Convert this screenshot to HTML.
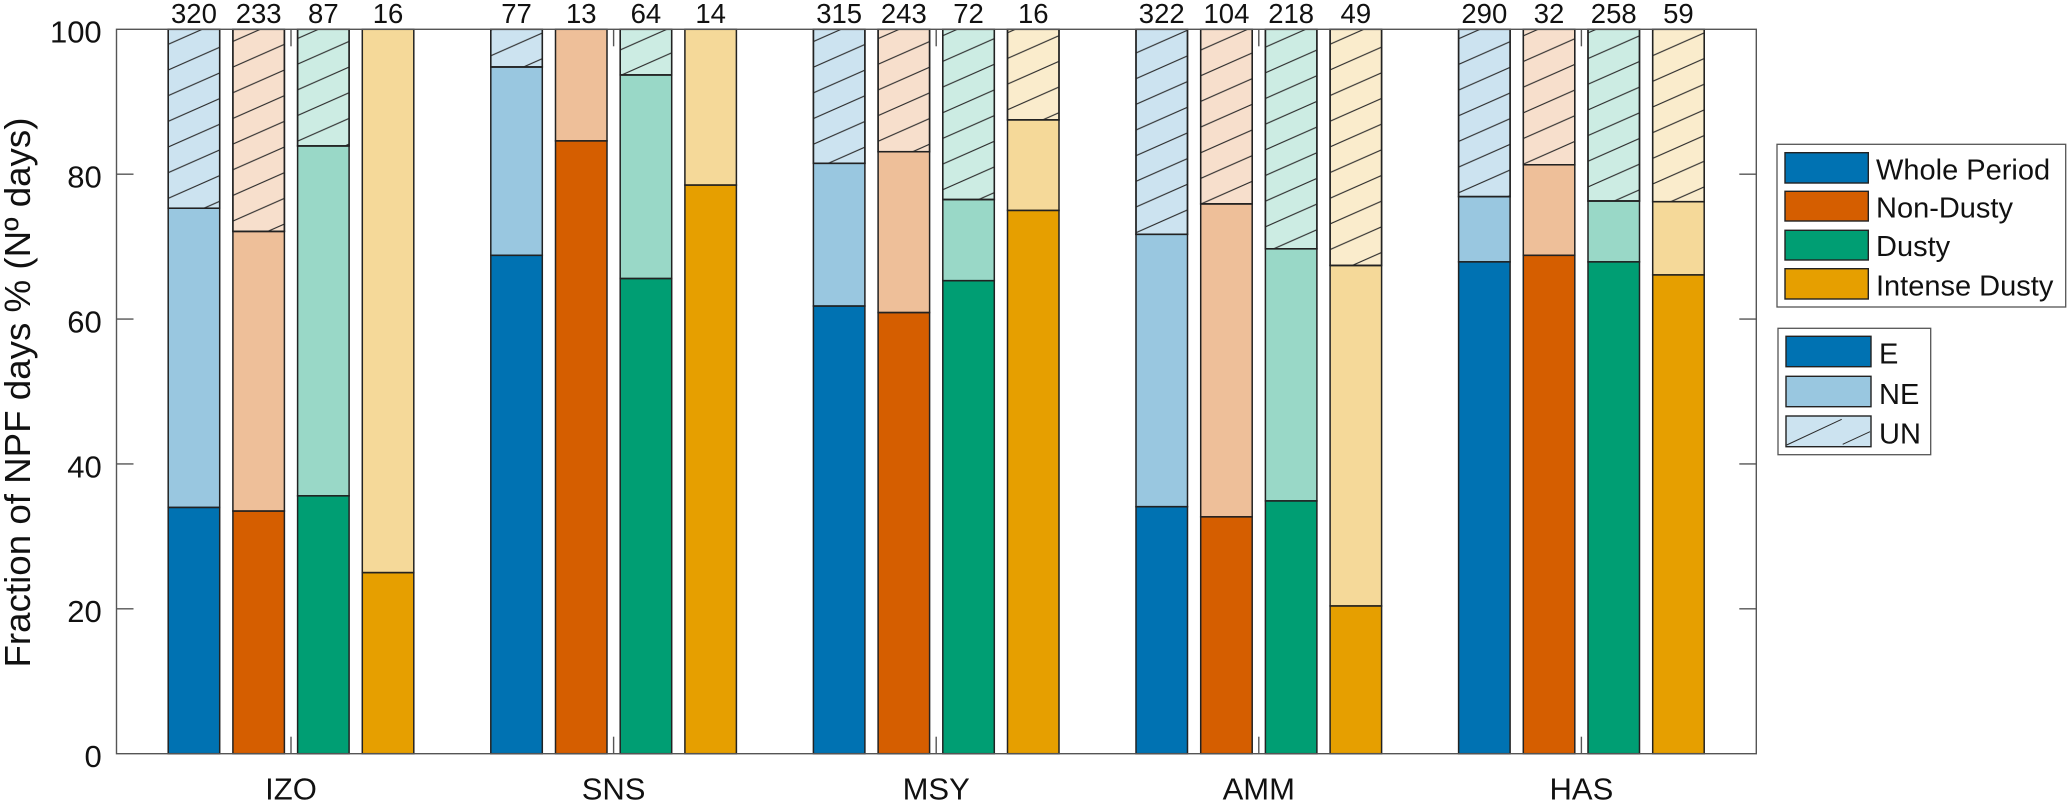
<!DOCTYPE html>
<html lang="en">
<head>
<meta charset="utf-8">
<title>Fraction of NPF days</title>
<style>
html,body{margin:0;padding:0;background:#fff;}
svg{display:block;font-family:"Liberation Sans",sans-serif;}
text{fill:#111;}
</style>
</head>
<body>
<svg id="chart" xmlns="http://www.w3.org/2000/svg" width="2067" height="802" viewBox="0 0 2067 802">
  <defs>
    <pattern id="hatch" patternUnits="userSpaceOnUse" width="58.08" height="25.67" patternTransform="translate(168.3 18.63)">
      <line x1="-5.808" y1="28.237" x2="63.888" y2="-2.567" stroke="#2b2b2b" stroke-width="1.1"/>
      <line x1="-5.808" y1="2.567" x2="5.808" y2="-2.567" stroke="#2b2b2b" stroke-width="1.1"/>
      <line x1="52.272" y1="28.237" x2="63.888" y2="23.103" stroke="#2b2b2b" stroke-width="1.1"/>
    </pattern>
  </defs>
  <g id="bars"></g>
  <g id="axes"></g>
  <g id="count-labels" font-size="27.5" text-anchor="middle"></g>

  <text transform="translate(30 392.5) rotate(-90)" text-anchor="middle" font-size="36" textLength="550" lengthAdjust="spacingAndGlyphs">Fraction of NPF days % (Nº days)</text>

  <g>
    <rect x="1777" y="144.3" width="288.7" height="162.7" fill="#fff" stroke="#555" stroke-width="1.3"/>
    <rect x="1785" y="152.7" width="83.3" height="30.3" fill="#0072B2" stroke="#222" stroke-width="1.4"/>
    <rect x="1785" y="191.3" width="83.3" height="29.7" fill="#D55E00" stroke="#222" stroke-width="1.4"/>
    <rect x="1785" y="230.3" width="83.3" height="29.7" fill="#009E73" stroke="#222" stroke-width="1.4"/>
    <rect x="1785" y="268.7" width="83.3" height="30.3" fill="#E69F00" stroke="#222" stroke-width="1.4"/>
    <text x="1876" y="179.3" font-size="29">Whole Period</text>
    <text x="1876" y="217.3" font-size="29">Non-Dusty</text>
    <text x="1876" y="256" font-size="29">Dusty</text>
    <text x="1876" y="295.7" font-size="29">Intense Dusty</text>
  </g>

  <g>
    <rect x="1778" y="328.3" width="152.7" height="126.4" fill="#fff" stroke="#555" stroke-width="1.3"/>
    <rect x="1786" y="336.3" width="85" height="30.4" fill="#0072B2" stroke="#222" stroke-width="1.4"/>
    <rect x="1786" y="376.3" width="85" height="30.4" fill="#0072B2" fill-opacity="0.4" stroke="#222" stroke-width="1.4"/>
    <rect x="1786" y="416" width="85" height="30.7" fill="#CCE3F0" stroke="#222" stroke-width="1.4"/>
    <line x1="1786.7" y1="445" x2="1841.7" y2="419.3" stroke="#2b2b2b" stroke-width="1"/>
    <line x1="1842.7" y1="444.3" x2="1870" y2="431.7" stroke="#2b2b2b" stroke-width="1"/>
    <text x="1879" y="363.3" font-size="29">E</text>
    <text x="1879" y="404" font-size="29">NE</text>
    <text x="1879" y="443.3" font-size="29">UN</text>
  </g>
</svg>

<script>
// Chart data, four bars per site: Whole Period, Non-Dusty, Dusty, Intense Dusty
const sites = ["IZO", "SNS", "MSY", "AMM", "HAS"];
const periods = ["Whole Period", "Non-Dusty", "Dusty", "Intense Dusty"];
const periodColors = ["#0072B2", "#D55E00", "#009E73", "#E69F00"];
const yTicks = [0, 20, 40, 60, 80, 100];
const eFraction = [
  [34.0, 33.5, 35.6, 25.0],
  [68.8, 84.6, 65.6, 78.5],
  [61.8, 60.9, 65.3, 75.0],
  [34.1, 32.7, 34.9, 20.4],
  [67.9, 68.8, 67.9, 66.1]
];
const neFraction = [
  [41.3, 38.6, 48.3, 75.0],
  [26.0, 15.4, 28.1, 21.5],
  [19.7, 22.2, 11.2, 12.5],
  [37.6, 43.2, 34.8, 47.0],
  [9.0, 12.5, 8.4, 10.1]
];
const unFraction = [
  [24.7, 27.9, 16.1, 0],
  [5.2, 0, 6.3, 0],
  [18.5, 16.9, 23.5, 12.5],
  [28.3, 24.1, 30.3, 32.6],
  [23.1, 18.7, 23.7, 23.8]
];
const dayCounts = [
  [320, 233, 87, 16],
  [77, 13, 64, 14],
  [315, 243, 72, 16],
  [322, 104, 218, 49],
  [290, 32, 258, 59]
];

const SVG_NS = "http://www.w3.org/2000/svg";
const plot = { left: 116.5, right: 1756.3, top: 29.3, bottom: 753.7 };
const firstSiteX = 291;
const siteStep = 322.6;
const barStep = 64.7;
const barWidth = 51.5;
const tickLength = 17;

function xSite(i) { return firstSiteX + i * siteStep; }
function xBar(i, j) { return xSite(i) + (j - 1.5) * barStep; }
function yValue(v) { return plot.bottom - (v / 100) * (plot.bottom - plot.top); }

function make(parent, tag, attrs, content) {
  const el = document.createElementNS(SVG_NS, tag);
  for (const k in attrs) el.setAttribute(k, attrs[k]);
  if (content !== undefined) el.textContent = content;
  parent.appendChild(el);
  return el;
}

const barsLayer = document.getElementById("bars");
const axesLayer = document.getElementById("axes");
const countLayer = document.getElementById("count-labels");

sites.forEach(function (site, i) {
  periods.forEach(function (period, j) {
    const x = xBar(i, j) - barWidth / 2;
    const e = eFraction[i][j];
    const ne = neFraction[i][j];
    const un = unFraction[i][j];
    const slug = site.toLowerCase() + "-" + period.toLowerCase().replace(/\s+/g, "-");
    const color = periodColors[j];
    const style = { x: x, width: barWidth, stroke: "#222", "stroke-width": 1.5, fill: color };

    const eRect = make(barsLayer, "rect", Object.assign({}, style, { y: yValue(e), height: yValue(0) - yValue(e) }));
    
    

    const neRect = make(barsLayer, "rect", Object.assign({}, style, { y: yValue(e + ne), height: yValue(e) - yValue(e + ne), "fill-opacity": 0.4 }));
    
    

    if (un > 0) {
      const unRect = make(barsLayer, "rect", Object.assign({}, style, { y: yValue(e + ne + un), height: yValue(e + ne) - yValue(e + ne + un), "fill-opacity": 0.2 }));
      
      

      const hatchRect = make(barsLayer, "rect", { x: x, width: barWidth, y: yValue(e + ne + un), height: yValue(e + ne) - yValue(e + ne + un), fill: "url(#hatch)", stroke: "#222", "stroke-width": 1.5 });
      
      
    }

    const count = make(countLayer, "text", { x: xBar(i, j), y: 23 }, dayCounts[i][j]);
    
    
  });
});

const frame = make(axesLayer, "rect", { x: plot.left, y: plot.top, width: plot.right - plot.left, height: plot.bottom - plot.top, fill: "none", stroke: "#555", "stroke-width": 1.4 });



yTicks.forEach(function (t) {
  const y = yValue(t);
  if (t > 0 && t < 100) {
    const left = make(axesLayer, "line", { x1: plot.left, x2: plot.left + tickLength, y1: y, y2: y, stroke: "#555", "stroke-width": 1.4 });
    
    

    const right = make(axesLayer, "line", { x1: plot.right - tickLength, x2: plot.right, y1: y, y2: y, stroke: "#555", "stroke-width": 1.4 });
    
    
  }
  const label = make(axesLayer, "text", { x: 101.7, y: y + 13.4, "text-anchor": "end", "font-size": 31 }, t);
  
  
});

sites.forEach(function (site, i) {
  const x = xSite(i);
  const bottomTick = make(axesLayer, "line", { x1: x, x2: x, y1: plot.bottom, y2: plot.bottom - tickLength, stroke: "#555", "stroke-width": 1.4 });
  
  

  const topTick = make(axesLayer, "line", { x1: x, x2: x, y1: plot.top, y2: plot.top + tickLength, stroke: "#555", "stroke-width": 1.4 });
  
  

  const label = make(axesLayer, "text", { x: x, y: 799.5, "text-anchor": "middle", "font-size": 31 }, site);
  
  
});
</script>
</body>
</html>
